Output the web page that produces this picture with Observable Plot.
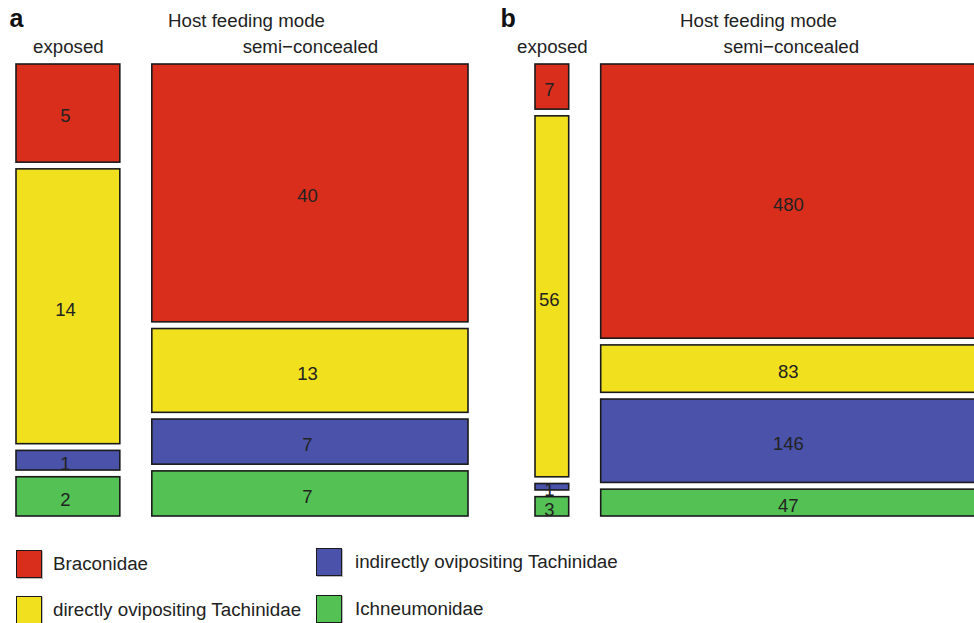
<!DOCTYPE html>
<html>
<head>
<meta charset="utf-8">
<script src="https://cdn.jsdelivr.net/npm/d3@7"></script>
<script src="https://cdn.jsdelivr.net/npm/@observablehq/plot@0.6"></script>
<style>
  html, body { margin: 0; padding: 0; background: #fff; width: 974px; height: 623px; overflow: hidden; }
  body { position: relative; font-family: "Liberation Sans", Arial, sans-serif; }
  .panel { position: absolute; top: 0; }
  .panel svg { max-width: none !important; }
  .legend-item { position: absolute; display: flex; align-items: center; font-size: 18.8px; color: #222; white-space: nowrap; }
  .swatch { width: 24px; height: 26px; border: 1.6px solid #1a1a1a; box-shadow: 1px 1px 0 #bbb; margin-right: 11px; }
</style>
</head>
<body>
<div id="pa" class="panel" style="left:0px; width:490px"></div>
<div id="pb" class="panel" style="left:490px; width:500px"></div>
<div id="legend"></div>
<script>
// ---- data ----
const groups = ["Braconidae", "directly ovipositing Tachinidae", "indirectly ovipositing Tachinidae", "Ichneumonidae"];
const groupColors = ["#D92E1C", "#F1E01E", "#4A52A9", "#53C153"];
const modes = ["exposed", "semi\u2212concealed"];
const panelA_exposed = [5, 14, 1, 2];
const panelA_semi = [40, 13, 7, 7];
const panelB_exposed = [7, 56, 1, 3];
const panelB_semi = [480, 83, 146, 47];
const axisTitle = "Host feeding mode";

function buildTiles(columns, gx, gy) {
  const N = d3.sum(columns.flat());
  const tiles = [];
  const cols = [];
  let xc = 0;
  columns.forEach((counts, i) => {
    const tot = d3.sum(counts);
    const w = tot / N;
    let yc = 0;
    counts.forEach((c, j) => {
      const h = c / tot;
      tiles.push({x1: xc, x2: xc + w, y1: yc, y2: yc + h, group: groups[j], count: c});
      yc += h + gy;
    });
    cols.push({mode: modes[i], xm: xc + w / 2});
    xc += w + gx;
  });
  return {tiles, cols};
}

function panel(letter, columns, opts) {
  const gx = opts.gx, gy = opts.gy;
  const {tiles, cols} = buildTiles(columns, gx, gy);
  return Plot.plot({
    width: opts.width,
    height: 525,
    marginTop: 64,
    marginBottom: 9,
    marginLeft: opts.ml,
    marginRight: opts.mr,
    x: {domain: [0, 1 + gx], axis: null},
    y: {domain: [0, 1 + 3 * gy], reverse: true, axis: null},
    color: {domain: groups, range: groupColors},
    style: {fontFamily: "'Liberation Sans', Arial, sans-serif", background: "transparent", overflow: "visible", maxWidth: "none"},
    marks: [
      Plot.rect(tiles, {x1: "x1", x2: "x2", y1: "y1", y2: "y2", fill: "group", stroke: "#1a1a1a", strokeWidth: 1.6}),
      Plot.text(tiles, {x: d => (d.x1 + d.x2) / 2, y: d => (d.y1 + d.y2) / 2, text: d => String(d.count), fontSize: 18.5, fill: "#222", dx: -3, dy: 3}),
      Plot.text(cols, {x: "xm", text: "mode", frameAnchor: "top", dy: -25, fontSize: 18.7, fill: "#222"}),
      Plot.text([axisTitle], {text: d => d, frameAnchor: "top", dx: opts.tdx, dy: -51, fontSize: 18.7, fill: "#222"}),
      Plot.text([letter], {text: d => d, frameAnchor: "top-left", dx: opts.ldx, dy: -55, textAnchor: "start", fontSize: 25, fontWeight: "bold", fill: "#111"})
    ]
  });
}

document.getElementById("pa").append(panel("a", [panelA_exposed, panelA_semi], {width: 490, ml: 16, mr: 22, gx: 32 / 420, gy: 6.7 / 431, tdx: 4, ldx: -7}));
document.getElementById("pb").append(panel("b", [panelB_exposed, panelB_semi], {width: 500, ml: 45, mr: 9, gx: 32 / 414, gy: 6.7 / 431, tdx: 0, ldx: -35}));

// legend
const legendPos = [[16, 550], [16, 596], [316, 548], [316, 595]];
const legend = document.getElementById("legend");
groups.forEach((g, i) => {
  const item = document.createElement("div");
  item.className = "legend-item";
  item.style.left = legendPos[i][0] + "px";
  item.style.top = legendPos[i][1] + "px";
  const sw = document.createElement("div");
  sw.className = "swatch";
  sw.style.background = groupColors[i];
  if (i >= 2) sw.style.marginRight = "13px";
  const label = document.createElement("span");
  label.textContent = g;
  item.append(sw, label);
  legend.append(item);
});
</script>
</body>
</html>
